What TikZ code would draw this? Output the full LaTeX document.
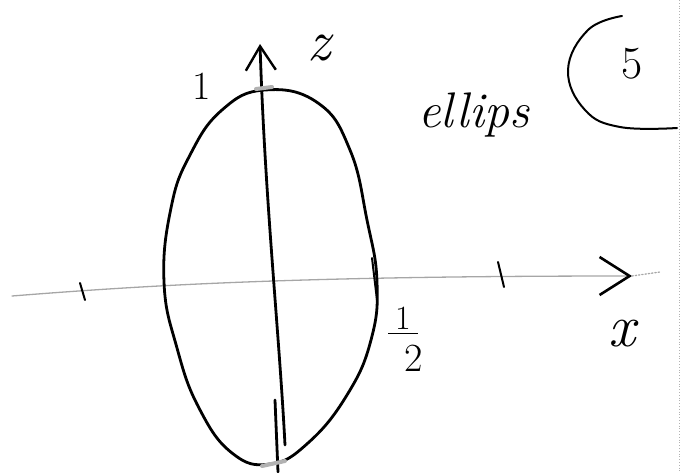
\documentclass[tikz,border=0pt]{standalone}
\usetikzlibrary{arrows.meta}
\begin{document}
\begin{tikzpicture}[x=1pt,y=-1pt,
  pen/.style={line width=2.8pt,line cap=round,line join=round,black},
  thinpen/.style={line width=2pt,line cap=round,black},
  faint/.style={line width=1.3pt,gray!70,line cap=round},
  smudge/.style={line width=4pt,gray!60,line cap=round},
  lbl/.style={inner sep=0pt,black}]
\useasboundingbox (0,0) rectangle (683,472);
% right edge dotted page border
\coordinate (bt) at (679,0);
\coordinate (bb) at (679,472);
\draw[gray!60,line width=0.8pt,dotted] (bt) -- (bb);
% x axis
\coordinate (xs) at (12,296);
\coordinate (xtip) at (632,276);
\coordinate (xe) at (660,272);
\draw[faint,-{Straight Barb[length=30pt,width=38pt,line width=2.6pt,color=black]}]
  (xs) .. controls (150,285) and (300,276) .. (xtip);
\draw[faint,dotted] (xtip) -- (xe);
% ticks on x axis
\coordinate (t1a) at (80,283); \coordinate (t1b) at (85,300);
\draw[thinpen] (t1a) -- (t1b);
\coordinate (t2a) at (498,262); \coordinate (t2b) at (504,287);
\draw[thinpen] (t2a) -- (t2b);
\coordinate (t3a) at (372,258); \coordinate (t3b) at (377,300);
\draw[thinpen] (t3a) -- (t3b);
% ellipse
\draw[pen] plot[smooth cycle,tension=0.75] coordinates {
  (265,90) (318,103) (350,150) (367,220) (377,282) (371,340)
  (347,395) (308,443) (270,464) (232,453) (199,408) (177,348)
  (164,282) (171,208) (190,155) (222,110)};
% z axis
\coordinate (zs) at (285,445);
\coordinate (ze) at (260,44);
\draw[pen,-{Straight Barb[length=24pt,width=30pt,line width=2.4pt]}]
  (zs) .. controls (279,330) and (265,200) .. (ze);
\coordinate (zb1) at (275,400); \coordinate (zb2) at (278,472);
\draw[pen] (zb1) -- (zb2);
% smudges at ellipse top and bottom
\coordinate (sm1) at (256,89); \coordinate (sm2) at (272,87);
\draw[smudge] (sm1) -- (sm2);
\coordinate (sm3) at (262,466); \coordinate (sm4) at (285,461);
\draw[smudge] (sm3) -- (sm4);
% labels
\node[lbl,font=\fontsize{40}{44}\selectfont] (one) at (202,86) {1};
\node[lbl,font=\fontsize{58}{60}\selectfont\itshape] (zlab) at (319,48) {z};
\node[lbl,font=\fontsize{50}{60}\selectfont\itshape,anchor=base west] (ell) at (418,127) {ellips};
\node[lbl,font=\fontsize{46}{50}\selectfont] (five) at (632,64) {5};
\draw[pen,line width=2pt] plot[smooth,tension=0.7] coordinates {
  (622,16) (588,30) (568,70) (585,110) (620,127) (677,128)};
% fraction 1/2
\node[lbl,font=\fontsize{34}{40}\selectfont] (hnum) at (403,318) {1};
\node[lbl,font=\fontsize{40}{44}\selectfont] (hden) at (414,358) {2};
\coordinate (hb1) at (388,333); \coordinate (hb2) at (418,333);
\draw[line width=1pt,black] (hb1) -- (hb2);
\node[lbl,font=\fontsize{60}{66}\selectfont\itshape] (xlab) at (622,334) {x};
\end{tikzpicture}
\end{document}
